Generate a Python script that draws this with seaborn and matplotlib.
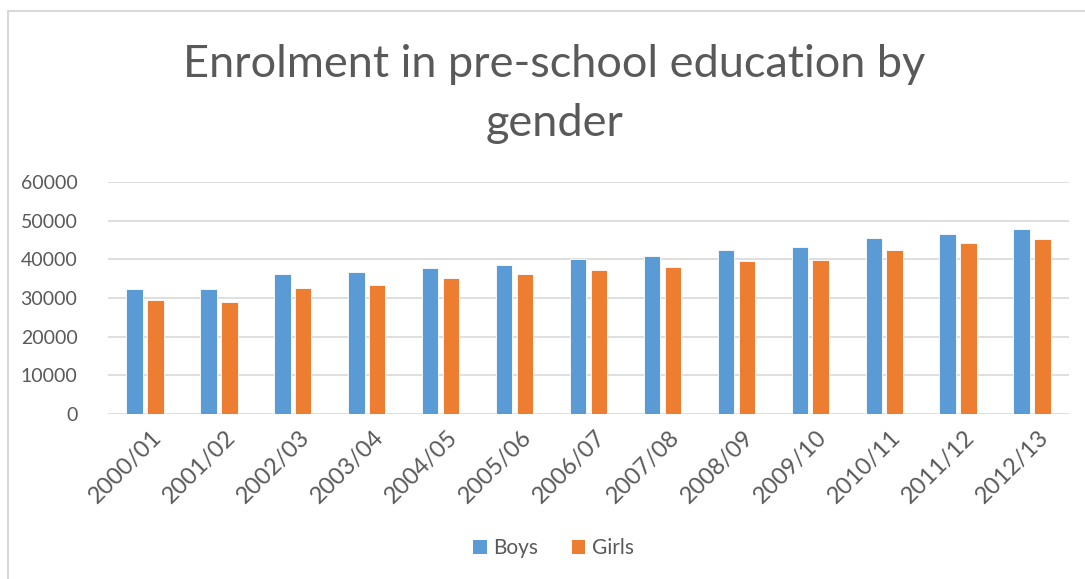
import matplotlib
matplotlib.use("Agg")
import matplotlib.pyplot as plt
from matplotlib.patches import Rectangle
from matplotlib.transforms import ScaledTranslation
import seaborn as sns
import pandas as pd

years = ["2000/01", "2001/02", "2002/03", "2003/04", "2004/05", "2005/06", "2006/07",
         "2007/08", "2008/09", "2009/10", "2010/11", "2011/12", "2012/13"]
boys = [32360, 32270, 36310, 36650, 37770, 38630, 40000, 40940, 42400, 43180, 45580, 46610, 47810]
girls = [29360, 29010, 32700, 33480, 35110, 36140, 37170, 38110, 39570, 39910, 42490, 44120, 45320]
series = ["Boys", "Girls"]
colors = ["#5B9BD5", "#ED7D31"]
yticks = [0, 10000, 20000, 30000, 40000, 50000, 60000]

df = pd.DataFrame({
    "Year": years * 2,
    "Gender": [series[0]] * len(years) + [series[1]] * len(years),
    "Enrolment": boys + girls,
})

sns.set_theme(style="white")
plt.rcParams["font.family"] = ["Lato", "DejaVu Sans"]
text_col = "#595959"

fig = plt.figure(figsize=(10.85, 5.79), dpi=100)
ax = fig.add_axes([108 / 1085, 1 - 414 / 579, (1069 - 108) / 1085, (414 - 182) / 579])

sns.barplot(data=df, x="Year", y="Enrolment", hue="Gender", order=years,
            hue_order=series, palette=colors, saturation=1, width=0.563, gap=0.21,
            edgecolor="white", linewidth=0.6, ax=ax, legend=False, zorder=3)

ax.set_ylim(0, 60000)
ax.set_xlim(-0.5, len(years) - 0.5)
ax.set_yticks(yticks)
ax.set_yticklabels([str(v) for v in yticks])
ax.yaxis.grid(True, color="#D9D9D9", linewidth=1.2, zorder=0)
ax.xaxis.grid(False)
ax.set_axisbelow(True)
for s in ax.spines.values():
    s.set_visible(False)
ax.set_xlabel("")
ax.set_ylabel("")
ax.tick_params(axis="y", length=0, pad=22, labelsize=14, labelcolor=text_col)
ax.tick_params(axis="x", length=0, pad=9, labelsize=17, labelcolor=text_col)
shift = ScaledTranslation(6 / 100, 0, fig.dpi_scale_trans)
for lbl in ax.get_xticklabels():
    lbl.set_rotation(45)
    lbl.set_ha("right")
    lbl.set_rotation_mode("anchor")
    lbl.set_transform(lbl.get_transform() + shift)

fig.text(0.5107, 1 - 77 / 579, "Enrolment in pre-school education by",
         ha="center", va="baseline", fontsize=32.5, color=text_col)
fig.text(0.5107, 1 - 136 / 579, "gender",
         ha="center", va="baseline", fontsize=32.5, color=text_col)

handles = [Rectangle((0, 0), 1, 1, facecolor=c, edgecolor="none") for c in colors]
fig.legend(handles, series, loc="center", bbox_to_anchor=(0.51, 1 - 548 / 579),
           ncol=2, frameon=False, fontsize=15, labelcolor=text_col,
           handlelength=0.67, handleheight=0.67, handletextpad=0.3, columnspacing=1.6)

# outer chart frame
fig.patches.append(Rectangle((8 / 1085, -0.05), 1.2, 1 - 11 / 579 + 0.05,
                             transform=fig.transFigure, fill=False,
                             edgecolor="#D9D9D9", linewidth=1.5))

fig.savefig("out.png", dpi=100, facecolor="white")
